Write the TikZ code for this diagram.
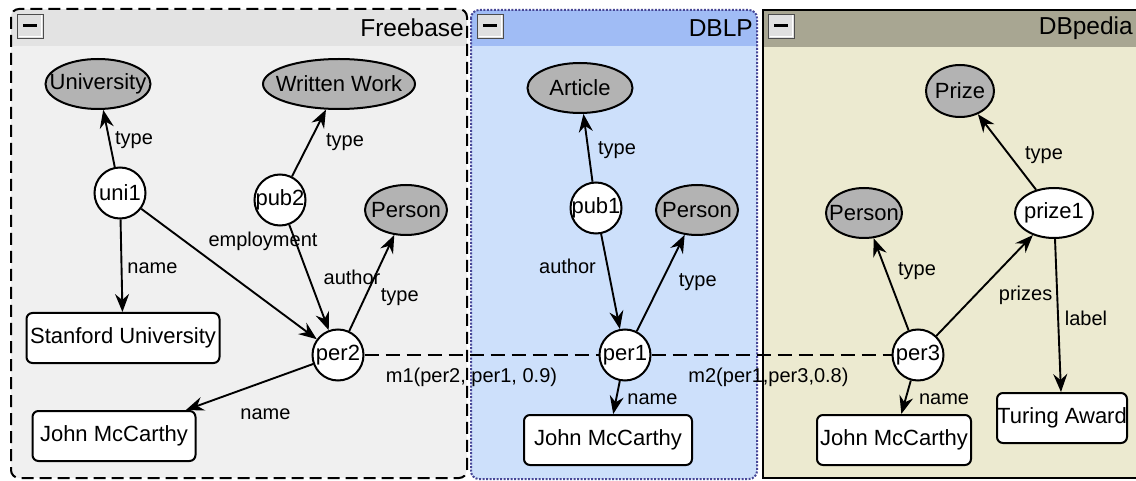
\documentclass[tikz,border=0pt]{standalone}
\usepackage{fontspec}
\setmainfont{Liberation Sans}
\usetikzlibrary{shapes.geometric, arrows.meta, positioning}

\definecolor{fbbody}{RGB}{240,240,240}
\definecolor{fbhead}{RGB}{227,227,227}
\definecolor{dbbody}{RGB}{205,224,251}
\definecolor{dbhead}{RGB}{160,188,245}
\definecolor{dbline}{RGB}{70,70,150}
\definecolor{dpbody}{RGB}{236,234,208}
\definecolor{dphead}{RGB}{168,166,146}
\definecolor{clsgray}{RGB}{179,179,179}
\definecolor{btnfill}{RGB}{224,224,224}

\begin{document}
\begin{tikzpicture}[x=1pt, y=-1pt,
    >={Stealth[length=18pt, width=14pt, inset=6pt]},
    every node/.style={font=\fontsize{22}{24}\selectfont},
    box/.style={inner sep=0pt,
      execute at begin node={\hbox to 0pt\bgroup\hss},
      execute at end node={\hss\egroup}},
    cls/.style={box, ellipse, draw, line width=2pt, fill=clsgray, minimum height=50pt},
    res/.style={box, circle, draw, line width=2pt, fill=white, minimum size=51pt},
    lit/.style={box, rectangle, rounded corners=6pt, draw, line width=2pt, fill=white, minimum height=50pt},
    lbl/.style={font=\fontsize{20}{22}\selectfont, inner sep=0pt},
    title/.style={anchor=east, inner sep=0pt, font=\fontsize{24.5}{28}\selectfont},
    rel/.style={->, line width=1.9pt},
    same/.style={dash pattern=on 14pt off 7pt, line width=1.9pt}]
  \useasboundingbox (0,0) rectangle (1136,481);
  \fill[white] (0,0) rectangle (1136,481);

  % panels
  \begin{scope}
    \clip[rounded corners=8pt] (11,9) rectangle (467,478);
    \fill[fbbody] (11,9) rectangle (467,478);
    \fill[fbhead] (11,9) rectangle (467,46);
  \end{scope}
  \draw[dash pattern=on 12pt off 6pt, line width=2pt, rounded corners=8pt] (11,9) rectangle (467,478);
  \begin{scope}
    \clip[rounded corners=8pt] (471,10) rectangle (757,479);
    \fill[dbbody] (471,10) rectangle (757,479);
    \fill[dbhead] (471,10) rectangle (757,46);
  \end{scope}
  \draw[dbline, dash pattern=on 2pt off 1.5pt, line width=2pt, rounded corners=8pt] (471,10) rectangle (757,479);
  \fill[dpbody] (763,10) rectangle (1140,478);
  \fill[dphead] (763,10) rectangle (1140,47);
  \draw[line width=2.2pt] (1140,10) -- (763,10) -- (763,478) -- (1140,478);

  \foreach \bx in {17,477,768} {
    \fill[btnfill] (\bx,14) rectangle +(26,24);
    \draw[gray!60!black, line width=0.8pt] (\bx,14) rectangle +(26,24);
    \draw[white, line width=0.8pt] (\bx+1.5,36.5) -- (\bx+24.5,36.5) -- (\bx+24.5,15.5);
    \draw[line width=3pt] (\bx+6,26) -- (\bx+20,26);
  }
  \node[title] (fbtitle) at (464,28) {Freebase};
  \node[title] (dbtitle) at (753,28) {DBLP};
  \node[title] (dptitle) at (1133,28) {DBpedia};

  % Freebase
  \node[cls, minimum width=105pt] (univ) at (98,84) {University};
  \node[cls, minimum width=152pt] (work) at (339,84) {Written Work};
  \node[res] (uni1) at (120,193) {uni1};
  \node[res] (pub2) at (280,200) {pub2};
  \node[cls, minimum width=82pt] (fbperson) at (406,210) {Person};
  \node[lit, minimum width=193pt] (stanford) at (123,338) {Stanford University};
  \node[res] (per2) at (338,355) {per2};
  \node[lit, minimum width=163pt] (fbname) at (114,436) {John McCarthy};

  % DBLP
  \node[cls, minimum width=105pt] (article) at (580,88) {Article};
  \node[res] (pub1) at (596,208) {pub1};
  \node[cls, minimum width=82pt] (dbperson) at (697,210) {Person};
  \node[res] (per1) at (625,355) {per1};
  \node[lit, minimum width=168pt] (dbname) at (608,440) {John McCarthy};

  % DBpedia
  \node[cls, minimum width=68pt, minimum height=52pt] (prize) at (960,91) {Prize};
  \node[cls, minimum width=76pt] (dpperson) at (864,213) {Person};
  \node[cls, fill=white, minimum width=78pt] (prize1) at (1054,213) {prize1};
  \node[res] (per3) at (918,355) {per3};
  \node[lit, minimum width=154pt] (dpname) at (894,440) {John McCarthy};
  \node[lit, minimum width=130pt] (turing) at (1062,418) {Turing Award};

  \path[rel]
    (uni1) edge node[lbl, xshift=25pt, yshift=-2pt] {type} (univ)
    (pub2) edge node[lbl, xshift=36pt, yshift=1pt] {type} (work)
    (uni1) edge node[lbl, xshift=31pt, yshift=-2pt] {name} (stanford)
    (uni1) edge node[lbl, xshift=34pt, yshift=33pt] {employment} (per2)
    (pub2) edge node[lbl, xshift=43pt] {author} (per2)
    (per2) edge node[lbl, xshift=28pt, yshift=-14pt] {type} (fbperson)
    (per2) edge node[lbl, xshift=16pt, yshift=-27pt] {name} (fbname);
  \path[rel]
    (pub1) edge node[lbl, xshift=29pt, yshift=-2pt] {type} (article)
    (pub1) edge node[lbl, xshift=-43pt, yshift=15pt] {author} (per1)
    (per1) edge node[lbl, xshift=37pt, yshift=1pt] {type} (dbperson)
    (per1) edge node[lbl, xshift=36pt, yshift=-2pt] {name} (dbname);
  \path[rel]
    (prize1) edge node[lbl, xshift=37pt, yshift=-3pt] {type} (prize)
    (per3) edge node[lbl, xshift=26pt, yshift=13pt] {type} (dpperson)
    (per3) edge node[lbl, xshift=41pt, yshift=-10pt] {prizes} (prize1)
    (prize1) edge node[lbl, xshift=28pt, yshift=-3pt] {label} (turing)
    (per3) edge node[lbl, xshift=38pt, yshift=-2pt] {name} (dpname);
  \path[same]
    (per2) edge node[lbl, xshift=-10pt, yshift=-22pt] {m1(per2, per1, 0.9)} (per1)
    (per1) edge node[lbl, xshift=-3pt, yshift=-22pt] {m2(per1,per3,0.8)} (per3);
\end{tikzpicture}
\end{document}
